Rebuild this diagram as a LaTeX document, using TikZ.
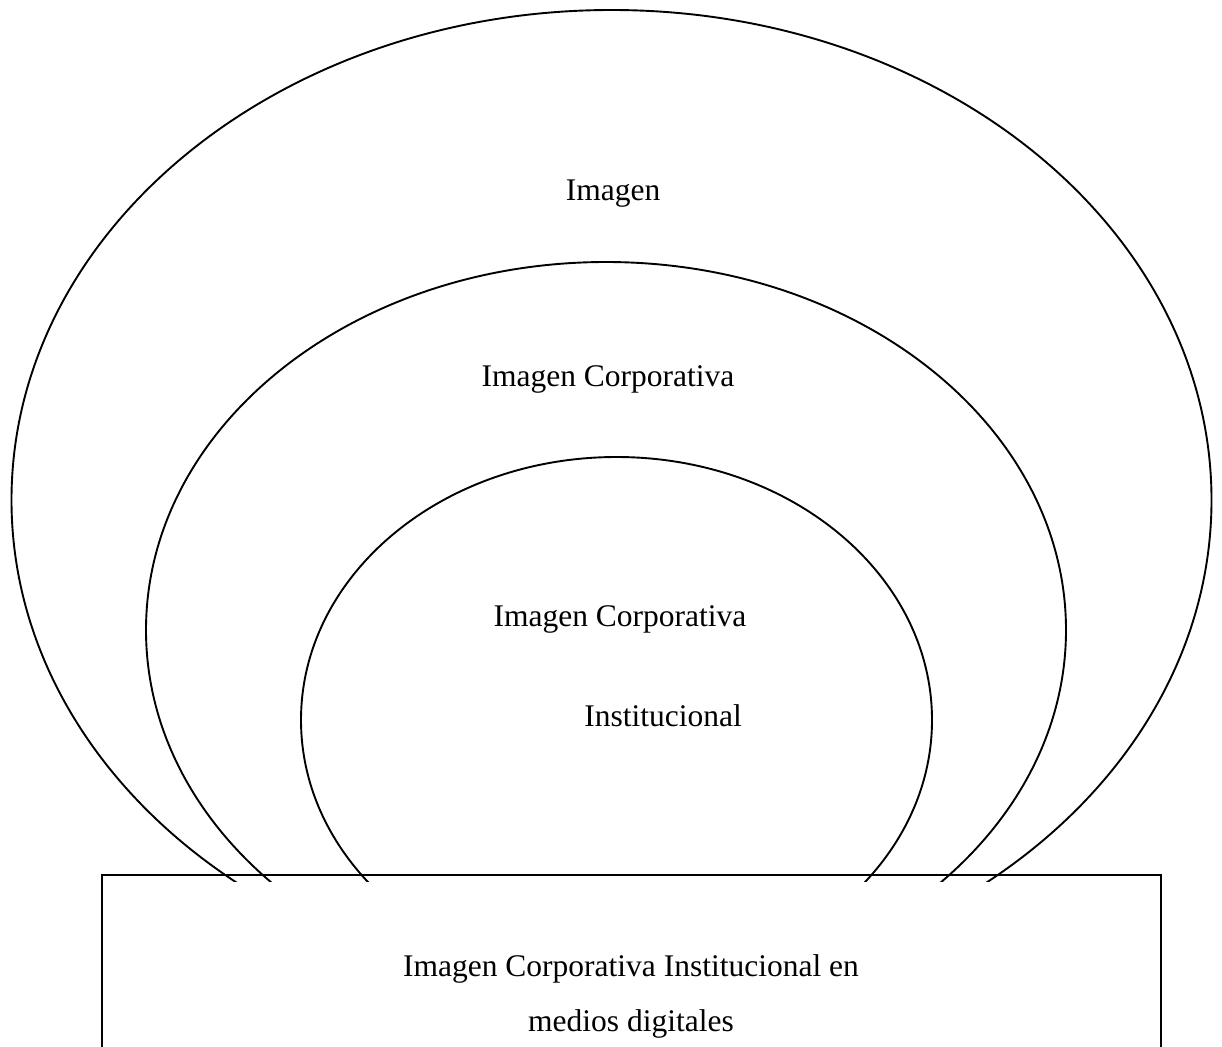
\documentclass[tikz,border=0pt]{standalone}
\usepackage{fontspec}
\setmainfont{Liberation Serif}
\begin{document}
\begin{tikzpicture}[x=1pt,y=-1pt,
  ring/.style={draw=black,line width=1.9pt},
  lbl/.style={anchor=base,inner sep=0pt,font=\fontsize{31.5}{38}\selectfont}]
\useasboundingbox (0,0) rectangle (1222,1046);
\fill[white] (0,0) rectangle (1222,1046);
% ellipses
\draw[ring] (611.5,500) ellipse [x radius=600, y radius=490];
\draw[ring] (606,630) ellipse [x radius=460, y radius=368];
\draw[ring] (616.5,720) ellipse [x radius=315.5, y radius=263];
% cover below the box top
\fill[white] (102,882) rectangle (1161,1070);
\draw[line width=1.9pt] (102,1070) -- (102,875) -- (1161,875) -- (1161,1070);
% labels
\node[lbl] (t1) at (613,200) {Imagen};
\node[lbl] (t2) at (608,386) {Imagen Corporativa};
\node[lbl] (t3) at (620,626) {Imagen Corporativa};
\node[lbl] (t4) at (663,726) {Institucional};
\node[lbl] (b1) at (631,976) {Imagen Corporativa Institucional en};
\node[lbl] (b2) at (631,1031) {medios digitales};
\end{tikzpicture}
\end{document}
